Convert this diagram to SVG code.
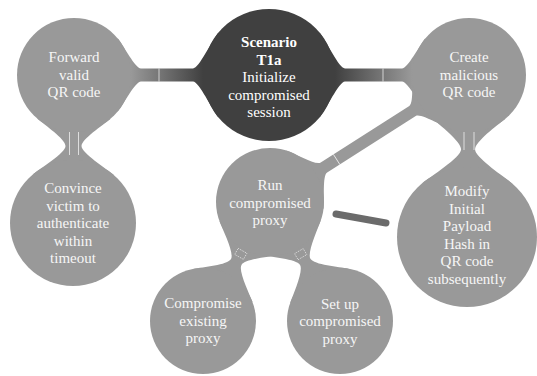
<svg xmlns="http://www.w3.org/2000/svg" width="537" height="376" viewBox="0 0 537 376">
<style>
.n{fill:#999999}
.root{fill:#404040}
.c{fill:#999999}
.t{font-family:"Liberation Serif","Times New Roman",serif;font-size:15px;fill:#f6f6f6;text-anchor:middle}
.rt{fill:#ffffff}
.b{font-weight:bold}
.seam{stroke:#ffffff;stroke-width:0.8;stroke-opacity:0.85;fill:none}
.dot{stroke:#ffffff;stroke-width:0.7;stroke-dasharray:1 1;fill:none;stroke-opacity:0.9}
</style>
<defs>
<linearGradient id="g1" gradientUnits="userSpaceOnUse" x1="66" y1="0" x2="138" y2="0">
<stop offset="0" stop-color="#404040"/><stop offset="1" stop-color="#999999"/>
</linearGradient>
<linearGradient id="g2" gradientUnits="userSpaceOnUse" x1="66" y1="0" x2="143" y2="0">
<stop offset="0" stop-color="#404040"/><stop offset="1" stop-color="#999999"/>
</linearGradient>
</defs>
<rect width="537" height="376" fill="#ffffff"/>
<g id="connectors">
<g transform="translate(269,75) rotate(180)">
<path fill="url(#g1)" d="M50.56,-42.44 C56.99,-34.78 70,-6.5 76,-6.5 L128,-6.5 C134,-6.5 144.91,-28.99 151.34,-36.65 L151.34,36.65 C144.91,28.99 134,6.5 128,6.5 L76,6.5 C70,6.5 56.99,34.78 50.56,42.44 Z"/>
<line class="seam" x1="110" y1="-6.5" x2="110" y2="6.5"/>
</g>
<g transform="translate(269,75)">
<path fill="url(#g2)" d="M50.56,-42.44 C56.99,-34.78 70,-6.5 76,-6.5 L133,-6.5 C139,-6.5 149.91,-28.99 156.34,-36.65 L156.34,36.65 C149.91,28.99 139,6.5 133,6.5 L76,6.5 C70,6.5 56.99,34.78 50.56,42.44 Z"/>
<line class="seam" x1="114" y1="-6.5" x2="114" y2="6.5"/>
</g>
<path class="c" transform="translate(74,75) rotate(90.39)" d="M43.66,-36.65 C50.09,-28.99 64,-8 71,-8 C78,-8 93.31,-32.85 99.74,-40.51 L99.74,40.51 C93.31,32.85 78,8 71,8 C64,8 50.09,28.99 43.66,36.65 Z"/>
<line class="seam" x1="69.5" y1="132" x2="69.5" y2="155"/>
<line class="seam" x1="78.5" y1="132" x2="78.5" y2="155"/>
<path class="c" transform="translate(469,75) rotate(90.71)" d="M43.66,-36.65 C50.09,-28.99 66.5,-7 74.5,-7 C82.5,-7 101.95,-37.35 108.38,-45.01 L108.38,45.01 C101.95,37.35 82.5,7 74.5,7 C66.5,7 50.09,28.99 43.66,36.65 Z"/>
<line class="seam" x1="464" y1="132" x2="464" y2="150"/>
<line class="seam" x1="474" y1="132" x2="474" y2="150"/>
<g transform="translate(469,75) rotate(147.46)">
<path class="c" d="M43.66,-36.65 C50.09,-28.99 61,-6 67,-6 L172.07,-6 C178.07,-6 188.28,-27.06 194.71,-34.72 L194.71,34.72 C188.28,27.06 178.07,6 172.07,6 L67,6 C61,6 50.09,28.99 43.66,36.65 Z"/>
<line class="seam" x1="157" y1="-6" x2="157" y2="6"/>
</g>
<g transform="translate(270,202) rotate(119.38)">
<path class="c" d="M41.36,-34.72 C47.79,-27.06 61.8,-6 68.8,-6 C75.8,-6 89.54,-26.42 95.97,-34.08 L95.97,34.08 C89.54,26.42 75.8,6 68.8,6 C61.8,6 47.79,27.06 41.36,34.72 Z"/>
<rect class="dot" x="56" y="-5" width="7" height="10"/>
</g>
<g transform="translate(270,202) rotate(59.53)">
<path class="c" d="M41.36,-34.72 C47.79,-27.06 62.5,-6 69.5,-6 C76.5,-6 91.03,-26.42 97.46,-34.08 L97.46,34.08 C91.03,26.42 76.5,6 69.5,6 C62.5,6 47.79,27.06 41.36,34.72 Z"/>
<rect class="dot" x="57" y="-5" width="7" height="10"/>
</g>
<line x1="336" y1="214" x2="386" y2="223" stroke="#6b6b6b" stroke-width="7" stroke-linecap="round"/>
</g>
<g id="root">
<circle class="root" cx="269" cy="75" r="66"/>
<text class="t rt"><tspan class="b" x="269" y="47">Scenario</tspan><tspan class="b" x="269" y="64.5">T1a</tspan><tspan x="269" y="82">Initialize</tspan><tspan x="269" y="99.5">compromised</tspan><tspan x="269" y="117">session</tspan></text>
</g>
<g id="forward">
<circle class="n" cx="74" cy="75" r="57"/>
<text class="t"><tspan x="74" y="62">Forward</tspan><tspan x="74" y="79.5">valid</tspan><tspan x="74" y="97">QR code</tspan></text>
</g>
<g id="convince">
<circle class="n" cx="73" cy="223" r="63"/>
<text class="t"><tspan x="73" y="193">Convince</tspan><tspan x="73" y="210.5">victim to</tspan><tspan x="73" y="228">authenticate</tspan><tspan x="73" y="245.5">within</tspan><tspan x="73" y="263">timeout</tspan></text>
</g>
<g id="create">
<circle class="n" cx="469" cy="75" r="57"/>
<text class="t"><tspan x="469" y="62">Create</tspan><tspan x="469" y="79.5">malicious</tspan><tspan x="469" y="97">QR code</tspan></text>
</g>
<g id="modify">
<circle class="n" cx="467" cy="237" r="70"/>
<text class="t"><tspan x="467" y="196">Modify</tspan><tspan x="467" y="213.5">Initial</tspan><tspan x="467" y="231">Payload</tspan><tspan x="467" y="248.5">Hash in</tspan><tspan x="467" y="266">QR code</tspan><tspan x="467" y="283.5">subsequently</tspan></text>
</g>
<g id="run">
<circle class="n" cx="270" cy="202" r="54"/>
<text class="t"><tspan x="270" y="190">Run</tspan><tspan x="270" y="207.5">compromised</tspan><tspan x="270" y="225">proxy</tspan></text>
</g>
<g id="compromise">
<circle class="n" cx="203" cy="321" r="53"/>
<text class="t"><tspan x="203" y="308">Compromise</tspan><tspan x="203" y="325.5">existing</tspan><tspan x="203" y="343">proxy</tspan></text>
</g>
<g id="setup">
<circle class="n" cx="340" cy="321" r="53"/>
<text class="t"><tspan x="340" y="308.5">Set up</tspan><tspan x="340" y="326">compromised</tspan><tspan x="340" y="343.5">proxy</tspan></text>
</g>
</svg>
